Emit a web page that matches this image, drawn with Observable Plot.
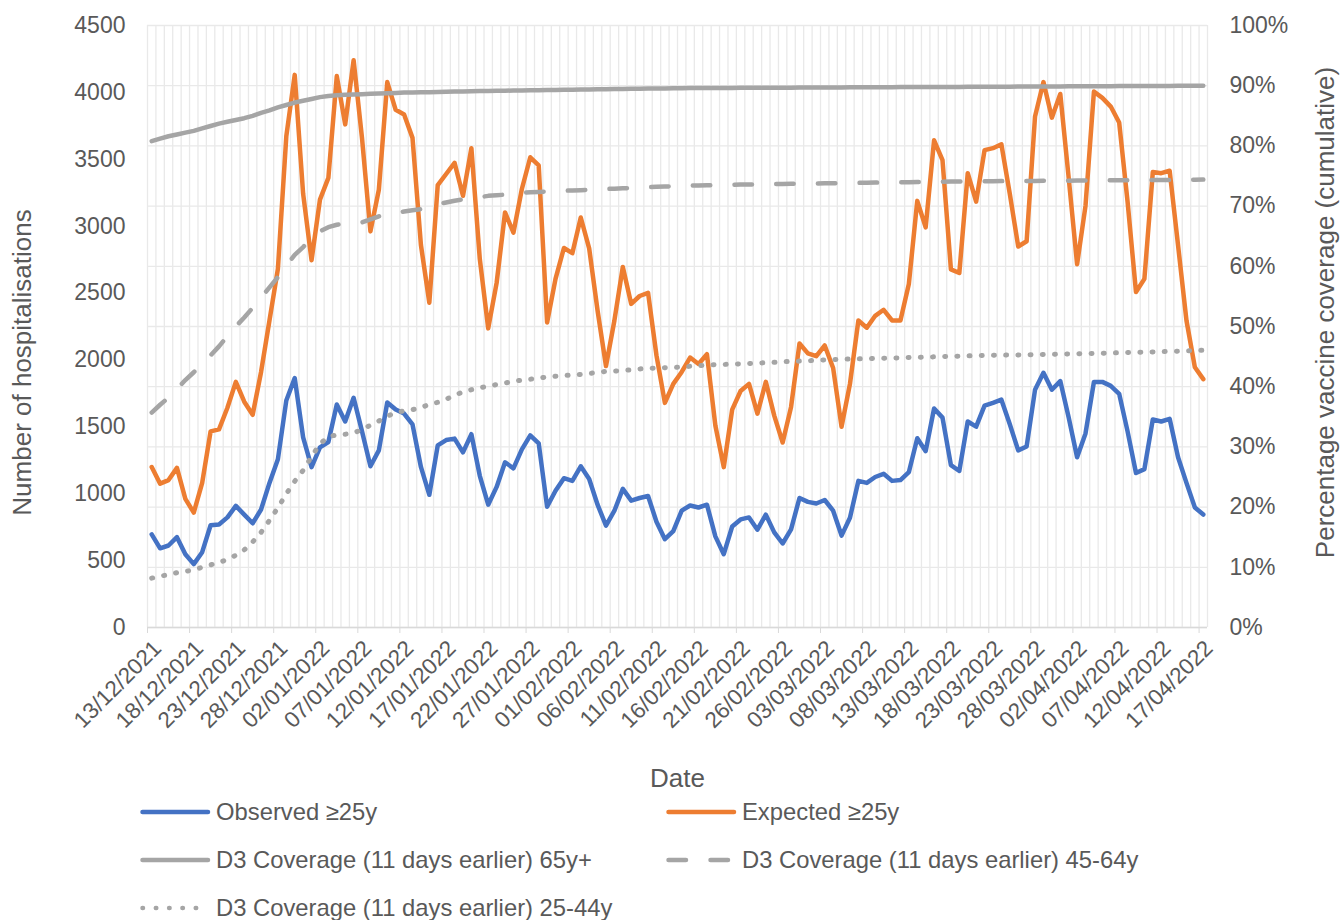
<!DOCTYPE html>
<html><head><meta charset="utf-8">
<script src="https://cdn.jsdelivr.net/npm/d3@7"></script>
<script src="https://cdn.jsdelivr.net/npm/@observablehq/plot@0.6"></script>
<style>
body{margin:0;background:#fff;font-family:"Liberation Sans",Arial,sans-serif;color:#595959;}
#chart{width:1341px;height:788px;}
#legend{position:relative;width:1341px;height:132px;}
.item{position:absolute;display:flex;align-items:center;height:48px;font-size:23.8px;color:#595959;white-space:nowrap;}
.item svg{margin-right:4px;}
</style></head><body>
<div id="chart"></div>
<div id="legend"></div>
<script>
// ---- data (daily, 13/12/2021 .. 17/04/2022) ----
const startDay = "13/12/2021";
const endDay = "17/04/2022";
const tickLabels = ["13/12/2021","18/12/2021","23/12/2021","28/12/2021","02/01/2022","07/01/2022","12/01/2022","17/01/2022","22/01/2022","27/01/2022","01/02/2022","06/02/2022","11/02/2022","16/02/2022","21/02/2022","26/02/2022","03/03/2022","08/03/2022","13/03/2022","18/03/2022","23/03/2022","28/03/2022","02/04/2022","07/04/2022","12/04/2022","17/04/2022"];
const leftTicks = [0,500,1000,1500,2000,2500,3000,3500,4000,4500];
const pctTicks = [0,10,20,30,40,50,60,70,80,90,100];

const observed = [696,592,613,675,548,474,563,764,770,823,909,844,779,882,1081,1258,1697,1865,1421,1199,
1347,1386,1667,1540,1717,1466,1205,1324,1682,1629,1599,1518,1200,992,1362,1401,1412,1309,1445,1134,
918,1051,1235,1190,1332,1436,1377,903,1022,1116,1096,1205,1110,918,761,873,1036,948,968,983,
791,660,720,873,912,897,918,681,548,755,808,823,731,844,711,628,734,968,939,927,
953,873,687,820,1096,1081,1125,1149,1096,1102,1161,1415,1318,1637,1569,1214,1170,1540,1501,1658,
1679,1703,1519,1324,1353,1777,1904,1777,1842,1569,1273,1451,1836,1836,1806,1747,1466,1155,1184,1555,
1540,1560,1273,1081,897,844];

const expected = [1199,1075,1102,1193,962,859,1081,1466,1481,1643,1836,1688,1590,1910,2295,2680,3672,4131,3242,2745,
3198,3361,4122,3761,4240,3657,2961,3272,4077,3870,3835,3660,2860,2428,3307,3390,3473,3227,3583,2754,
2236,2576,3103,2952,3278,3515,3455,2280,2606,2837,2798,3065,2834,2369,1954,2295,2695,2419,2478,2502,
2034,1679,1821,1910,2018,1970,2043,1510,1199,1629,1768,1821,1599,1836,1584,1383,1649,2123,2049,2028,
2108,1940,1501,1821,2295,2241,2330,2375,2295,2295,2567,3189,2991,3642,3494,2677,2650,3396,3183,3568,
3583,3612,3242,2848,2887,3820,4077,3811,3988,3361,2715,3153,4006,3959,3894,3775,3183,2508,2606,3405,
3396,3414,2857,2295,1945,1857];

// D3 coverage (%), 11 days earlier
const cov65 = [80.8,81.2,81.6,81.9,82.2,82.5,82.9,83.3,83.7,84.0,84.3,84.6,85.0,85.5,85.9,86.4,86.8,87.2,87.5,87.8,
88.1,88.3,88.4,88.5,88.55,88.6,88.65,88.7,88.75,88.8,88.85,88.87,88.9,88.93,88.96,89.0,89.02,89.05,89.07,89.1,
89.12,89.15,89.17,89.2,89.22,89.24,89.26,89.28,89.3,89.32,89.34,89.36,89.38,89.4,89.42,89.44,89.46,89.48,89.5,89.52,
89.54,89.55,89.57,89.58,89.6,89.61,89.61,89.62,89.63,89.63,89.64,89.65,89.65,89.66,89.67,89.67,89.68,89.69,89.7,89.7,
89.71,89.72,89.72,89.73,89.74,89.74,89.75,89.76,89.76,89.77,89.77,89.78,89.78,89.79,89.79,89.8,89.8,89.81,89.82,89.82,
89.83,89.84,89.84,89.85,89.86,89.86,89.87,89.88,89.88,89.89,89.9,89.9,89.91,89.92,89.92,89.93,89.94,89.94,89.95,89.96,
89.96,89.97,89.98,89.98,89.99,90.0];

const cov45 = [35.7,37.0,38.2,39.6,41.1,42.4,43.8,45.2,46.7,48.4,50.0,51.5,53.1,54.8,56.5,58.2,60.1,61.9,63.2,64.6,
65.8,66.5,66.9,67.1,67.2,67.3,67.8,68.3,68.6,68.9,69.1,69.3,69.5,69.9,70.3,70.6,70.9,71.1,71.3,71.5,
71.7,71.8,71.9,72.0,72.2,72.3,72.35,72.4,72.5,72.55,72.6,72.65,72.7,72.8,72.85,72.9,72.95,73.0,73.1,73.15,
73.2,73.25,73.3,73.35,73.4,73.43,73.46,73.49,73.52,73.55,73.58,73.6,73.62,73.64,73.66,73.68,73.7,73.72,73.74,73.76,
73.78,73.8,73.82,73.84,73.86,73.88,73.9,73.92,73.94,73.96,73.98,74.0,74.02,74.04,74.06,74.08,74.1,74.11,74.12,74.13,
74.14,74.15,74.16,74.17,74.18,74.19,74.2,74.21,74.22,74.23,74.24,74.25,74.26,74.27,74.28,74.29,74.3,74.31,74.32,74.33,
74.34,74.35,74.36,74.37,74.38,74.4];

const cov25 = [8.2,8.5,8.8,9.1,9.3,9.6,10.0,10.4,10.8,11.3,12.0,12.9,14.2,15.8,17.8,19.9,22.2,24.3,26.1,28.4,
30.5,31.7,32.0,32.1,32.3,32.9,33.6,34.3,35.1,35.7,36.0,36.2,36.5,37.1,37.4,37.9,38.6,39.1,39.5,39.8,
40.1,40.35,40.6,40.9,41.1,41.25,41.45,41.6,41.75,41.85,41.95,42.05,42.2,42.35,42.55,42.6,42.7,42.8,42.95,43.05,
43.1,43.15,43.2,43.25,43.4,43.5,43.6,43.65,43.7,43.75,43.8,43.85,43.9,44.0,44.05,44.15,44.2,44.25,44.3,44.4,
44.45,44.5,44.55,44.6,44.62,44.65,44.7,44.72,44.75,44.8,44.85,44.88,44.92,44.96,45.0,45.04,45.08,45.12,45.16,45.2,
45.22,45.24,45.26,45.28,45.3,45.32,45.35,45.38,45.41,45.44,45.47,45.5,45.53,45.56,45.6,45.64,45.68,45.72,45.75,45.78,
45.82,45.86,45.9,45.95,46.0,46.05];

// ---- build ----
const parse = d3.utcParse("%d/%m/%Y");
const start = parse(startDay);
const end = d3.utcDay.offset(parse(endDay), 1);
const days = d3.utcDay.range(start, end);
const rows = days.map((d, i) => ({
  date: d3.utcHour.offset(d, 12),
  observed: observed[i], expected: expected[i],
  c65: cov65[i], c45: cov45[i], c25: cov25[i]
}));
const pctToY = p => p * 4500 / 100;   // secondary axis mapped onto primary range
const tickDates = tickLabels.map(parse);

const BLUE = "#4472C4", ORANGE = "#ED7D31", GREY = "#A5A5A5", TXT = "#595959", GRID = "#E9E9E9";

const chart = Plot.plot({
  width: 1341, height: 788,
  marginLeft: 147, marginRight: 134, marginTop: 25, marginBottom: 161,
  style: {fontFamily: '"Liberation Sans", Arial, sans-serif', fontSize: "23px", color: TXT, background: "#fff", overflow: "visible"},
  x: {type: "utc", domain: [start, end]},
  y: {domain: [0, 4500]},
  marks: [
    Plot.gridX(d3.utcDay.range(start, d3.utcDay.offset(end, 1)), {stroke: GRID, strokeOpacity: 1, strokeWidth: 1.3}),
    Plot.gridY(pctTicks.map(pctToY), {stroke: GRID, strokeOpacity: 1, strokeWidth: 1.3}),
    Plot.ruleY([0], {stroke: "#D9D9D9", strokeWidth: 1.6}),
    // tick marks only
    Plot.axisX(tickDates, {tickFormat: () => "", tickSize: 6, stroke: "#D9D9D9", label: null}),
    // rotated date labels
    Plot.axisX(tickDates, {tickFormat: d3.utcFormat("%d/%m/%Y"), tickRotate: -45, tickSize: 0, tickPadding: 10,
      dx: 10, dy: 7, fontSize: 22.5, fill: TXT, label: null}),
    Plot.axisY(leftTicks, {anchor: "left", tickSize: 0, tickPadding: 22, tickFormat: d => String(d), fill: TXT, label: null}),
    Plot.axisY(pctTicks.map(pctToY), {anchor: "right", tickSize: 0, tickPadding: 22,
      tickFormat: d => Math.round(d * 100 / 4500) + "%", fill: TXT, label: null}),
    Plot.lineY(rows, {x: "date", y: "observed", stroke: BLUE, strokeWidth: 4.5, strokeLinejoin: "round", strokeLinecap: "round"}),
    Plot.lineY(rows, {x: "date", y: "expected", stroke: ORANGE, strokeWidth: 4.5, strokeLinejoin: "round", strokeLinecap: "round"}),
    Plot.lineY(rows, {x: "date", y: d => pctToY(d.c65), stroke: GREY, strokeWidth: 4.5, strokeLinejoin: "round", strokeLinecap: "round"}),
    Plot.lineY(rows, {x: "date", y: d => pctToY(d.c45), stroke: GREY, strokeWidth: 4.5, strokeLinecap: "round", strokeDasharray: "17.5,24.2"}),
    Plot.lineY(rows, {x: "date", y: d => pctToY(d.c25), stroke: GREY, strokeWidth: 5, strokeLinecap: "round", strokeDasharray: "1,11.2"}),
    Plot.text(["Number of hospitalisations"], {text: d => d, frameAnchor: "left", textAnchor: "middle", lineAnchor: "middle",
      dx: -125, dy: 36, rotate: -90, fontSize: 26, fill: TXT}),
    Plot.text(["Percentage vaccine coverage (cumulative)"], {text: d => d, frameAnchor: "right", textAnchor: "middle", lineAnchor: "middle",
      dx: 118, dy: -14, rotate: -90, fontSize: 26, fill: TXT}),
    Plot.text(["Date"], {text: d => d, frameAnchor: "bottom", textAnchor: "middle", lineAnchor: "middle", dy: 151, fontSize: 26, fill: TXT})
  ]
});
document.getElementById("chart").appendChild(chart);

// ---- legend ----
const legendItems = [
  {label: "Observed ≥25y", color: BLUE, dash: null, w: 4.5, left: 138, top: 0},
  {label: "Expected ≥25y", color: ORANGE, dash: null, w: 4.5, left: 664, top: 0},
  {label: "D3 Coverage (11 days earlier) 65y+", color: GREY, dash: null, w: 4.5, left: 138, top: 48},
  {label: "D3 Coverage (11 days earlier) 45-64y", color: GREY, dash: "17.5,24.5", w: 4.5, left: 664, top: 48},
  {label: "D3 Coverage (11 days earlier) 25-44y", color: GREY, dash: "0.5,12.8", w: 4.5, left: 138, top: 96}
];
const leg = d3.select("#legend");
for (const it of legendItems) {
  const div = leg.append("div").attr("class", "item").style("left", it.left + "px").style("top", it.top + "px");
  const svg = div.append("svg").attr("width", 74).attr("height", 12);
  svg.append("line").attr("x1", 4.5).attr("x2", 70).attr("y1", 6).attr("y2", 6)
    .attr("stroke", it.color).attr("stroke-width", it.w).attr("stroke-linecap", "round")
    .attr("stroke-dasharray", it.dash);
  div.append("span").text(it.label);
}
</script>
</body></html>
